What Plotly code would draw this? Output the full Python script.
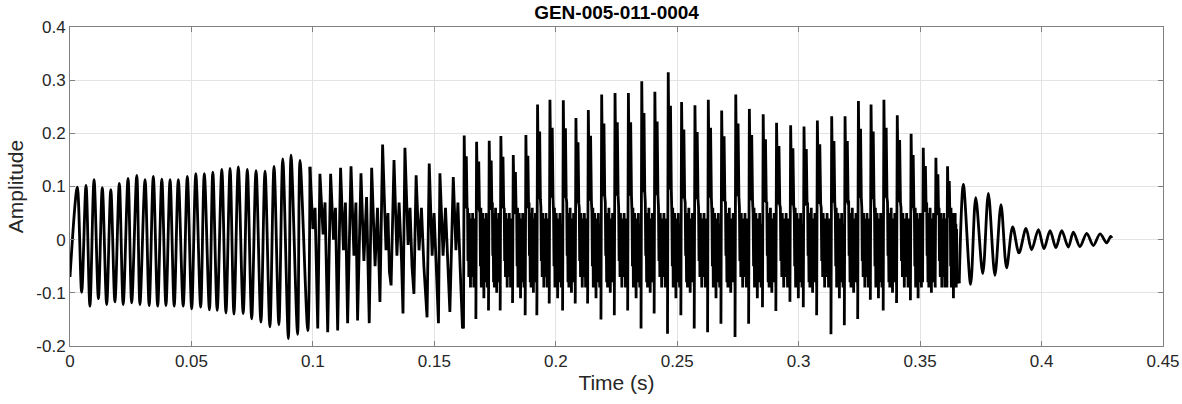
import plotly.graph_objects as go

# ---------------- data ----------------
# Section A: clean periodic part (extrema), 0 - 0.099 s
a_t = [0.0000, 0.0030, 0.0048, 0.0066, 0.0082, 0.0099, 0.0117, 0.0133, 0.0151, 0.0168,
       0.0185, 0.0203, 0.0219, 0.0239, 0.0254, 0.0275, 0.0288, 0.0309, 0.0326, 0.0343,
       0.0361, 0.0378, 0.0395, 0.0412, 0.0429, 0.0446, 0.0466, 0.0483, 0.0501, 0.0518,
       0.0538, 0.0553, 0.0574, 0.0588, 0.0606, 0.0625, 0.0642, 0.0659, 0.0675, 0.0693,
       0.0713, 0.0730, 0.0748, 0.0766, 0.0786, 0.0803, 0.0823, 0.0840, 0.0860, 0.0876,
       0.0899, 0.0910, 0.0937, 0.0947, 0.0979, 0.0988]
a_v = [-0.070, 0.099, -0.099, 0.102, -0.125, 0.113, -0.111, 0.098, -0.122, 0.094,
       -0.117, 0.106, -0.122, 0.115, -0.119, 0.121, -0.122, 0.113, -0.124, 0.119,
       -0.125, 0.114, -0.124, 0.113, -0.125, 0.113, -0.125, 0.119, -0.130, 0.124,
       -0.127, 0.124, -0.132, 0.127, -0.133, 0.132, -0.138, 0.134, -0.140, 0.137,
       -0.139, 0.132, -0.149, 0.130, -0.155, 0.129, -0.164, 0.138, -0.160, 0.152,
       -0.186, 0.159, -0.178, 0.149, -0.171, 0.137]

# Section B: transition with secondary bumps, 0.099 - 0.162 s
b_t = [0.0988, 0.1000, 0.1009, 0.1020, 0.1029, 0.1042, 0.1050, 0.1061, 0.1073, 0.1085,
       0.1093, 0.1102, 0.1114, 0.1126, 0.1134, 0.1143, 0.1157, 0.1169, 0.1177, 0.1184,
       0.1198, 0.1210, 0.1221, 0.1232, 0.1242, 0.1256, 0.1266, 0.1276, 0.1287, 0.1301,
       0.1309, 0.1315, 0.1322, 0.1334, 0.1346, 0.1355, 0.1365, 0.1371, 0.1379, 0.1392,
       0.1400, 0.1408, 0.1416, 0.1425, 0.1437, 0.1447, 0.1457, 0.1470, 0.1479, 0.1491,
       0.1499, 0.1507, 0.1517, 0.1523, 0.1536, 0.1546, 0.1556, 0.1564, 0.1578, 0.1589,
       0.1597, 0.1606, 0.1616]
b_v = [0.137, 0.020, 0.060, -0.167, 0.124, 0.010, 0.070, -0.174, 0.124, 0.000,
       0.060, -0.171, 0.135, -0.020, 0.070, -0.157, 0.138, -0.030, 0.070, -0.152,
       0.125, -0.040, 0.080, -0.157, 0.135, -0.050, 0.060, -0.117, 0.179, -0.020,
       0.050, -0.060, -0.086, 0.150, -0.030, 0.070, -0.040, -0.139, 0.173, -0.010,
       0.060, -0.050, -0.102, 0.121, -0.020, 0.060, -0.050, -0.146, 0.143, -0.030,
       0.050, -0.040, -0.157, 0.125, -0.030, 0.060, -0.050, -0.136, 0.118, -0.020,
       0.070, -0.050, -0.167]

# Section C: voiced part with ringing, main pulses 0.162 - 0.366 s
c_peak_t = [0.1623, 0.1674, 0.1726, 0.1774, 0.1825, 0.1877, 0.1925, 0.1976, 0.2031, 0.2083,
            0.2134, 0.2189, 0.2244, 0.2299, 0.2354, 0.2408, 0.2463, 0.2518, 0.2573, 0.2628,
            0.2683, 0.2741, 0.2797, 0.2854, 0.2909, 0.2967, 0.3022, 0.3077, 0.3136, 0.3191,
            0.3246, 0.3298, 0.3351, 0.3406, 0.3463, 0.3513, 0.3565, 0.3613]
c_peak_v = [0.196, 0.184, 0.186, 0.195, 0.159, 0.197, 0.254, 0.263, 0.262, 0.229,
            0.244, 0.273, 0.276, 0.276, 0.298, 0.278, 0.315, 0.259, 0.253, 0.263,
            0.243, 0.273, 0.246, 0.236, 0.220, 0.215, 0.213, 0.224, 0.232, 0.232,
            0.261, 0.254, 0.263, 0.234, 0.199, 0.173, 0.154, 0.138]
c_trough_v = [-0.167, -0.149, -0.133, -0.133, -0.119, -0.142, -0.142, -0.120, -0.133, -0.120,
              -0.120, -0.150, -0.142, -0.133, -0.167, -0.139, -0.177, -0.142, -0.167, -0.174,
              -0.158, -0.183, -0.158, -0.127, -0.134, -0.117, -0.127, -0.142, -0.178, -0.161,
              -0.149, -0.113, -0.133, -0.119, -0.114, -0.080, -0.083, -0.090]
c_end_t = 0.3655
# pulse shape: double spike, then dense ringing
pulse_frac = [0.08, 0.17, 0.23]
pulse_ratio = [0.30, 0.80, 0.30]
ring_frac = [0.270, 0.304, 0.338, 0.372, 0.406, 0.440, 0.474, 0.508, 0.542, 0.576, 0.610,
             0.644, 0.678, 0.712, 0.746, 0.780, 0.814, 0.848, 0.882, 0.916, 0.950]
ring_vals = [
    [0.06, -0.04, 0.04, -0.07, 0.05, -0.05, 0.02, -0.09, 0.04, -0.05, 0.03,
     -0.07, 0.05, -0.04, 0.01, -0.09, 0.03, -0.06, 0.04, -0.05, -0.08],
    [0.05, -0.05, 0.06, -0.09, 0.02, -0.06, 0.05, -0.07, 0.03, -0.11, 0.04,
     -0.05, 0.02, -0.08, 0.05, -0.06, 0.03, -0.09, 0.02, -0.05, -0.07],
    [0.07, -0.03, 0.02, -0.08, 0.05, -0.09, 0.03, -0.06, 0.06, -0.04, 0.02,
     -0.10, 0.04, -0.07, 0.03, -0.05, 0.05, -0.08, 0.02, -0.06, -0.09],
]

# Section D: decaying tail, 0.366 - 0.429 s
d_t = [0.3661, 0.3678, 0.3708, 0.3729, 0.3758, 0.3781, 0.3808, 0.3833, 0.3856, 0.3881,
       0.3907, 0.3936, 0.3959, 0.3987, 0.4010, 0.4035, 0.4059, 0.4083, 0.4110, 0.4131,
       0.4158, 0.4186, 0.4213, 0.4241, 0.4268, 0.4284, 0.4290]
d_v = [-0.082, 0.104, -0.084, 0.079, -0.064, 0.087, -0.067, 0.066, -0.053, 0.024,
       -0.025, 0.021, -0.019, 0.019, -0.017, 0.017, -0.015, 0.017, -0.014, 0.014,
       -0.013, 0.012, -0.011, 0.011, -0.006, 0.006, 0.003]

x_ticks = [0, 0.05, 0.1, 0.15, 0.2, 0.25, 0.3, 0.35, 0.4, 0.45]
x_labels = ["0", "0.05", "0.1", "0.15", "0.2", "0.25", "0.3", "0.35", "0.4", "0.45"]
y_ticks = [-0.2, -0.1, 0, 0.1, 0.2, 0.3, 0.4]
y_labels = ["-0.2", "-0.1", "0", "0.1", "0.2", "0.3", "0.4"]

# ---------------- build section C polyline ----------------
c_t, c_v = [], []
bounds = c_peak_t + [c_end_t]
for k, tp in enumerate(c_peak_t):
    T = bounds[k + 1] - tp
    c_t.append(tp - 0.0003)
    c_v.append(c_trough_v[k])
    c_t.append(tp)
    c_v.append(c_peak_v[k])
    for f, r in zip(pulse_frac, pulse_ratio):
        c_t.append(tp + f * T)
        c_v.append(r * c_peak_v[k])
    for f, v in zip(ring_frac, ring_vals[k % len(ring_vals)]):
        c_t.append(tp + f * T)
        c_v.append(v)
c_t.append(d_t[0])
c_v.append(d_v[0])

LINE = dict(color="black", width=2.8, simplify=False)
fig = go.Figure()
fig.add_trace(go.Scatter(x=a_t, y=a_v, mode="lines", line=dict(LINE, shape="spline", smoothing=0.9)))
fig.add_trace(go.Scatter(x=b_t, y=b_v, mode="lines", line=LINE))
fig.add_trace(go.Scatter(x=c_t, y=c_v, mode="lines", line=LINE))
fig.add_trace(go.Scatter(x=d_t, y=d_v, mode="lines", line=dict(LINE, shape="spline", smoothing=0.9)))

FONT = "Liberation Sans, Arial, Helvetica, sans-serif"
axis_common = dict(
    showgrid=True, gridcolor="#e3e3e3", gridwidth=1,
    showline=True, linecolor="#808080", linewidth=1, mirror="ticks",
    ticks="inside", ticklen=5, tickcolor="#808080", automargin=False,
    zeroline=False, tickfont=dict(family=FONT, size=17, color="#262626"),
)
fig.update_layout(
    width=1182, height=404,
    margin=dict(l=70, r=19, t=27, b=58),
    paper_bgcolor="white", plot_bgcolor="white",
    showlegend=False,
    title=dict(text="<b>GEN-005-011-0004</b>", x=0.5216, xanchor="center",
               y=1 - 12 / 404, yanchor="middle", yref="container",
               font=dict(family=FONT, size=19, color="black")),
    xaxis=dict(axis_common, range=[0, 0.45], tickvals=x_ticks, ticktext=x_labels,
               title=dict(text="Time (s)", standoff=4, font=dict(family=FONT, size=21, color="#262626"))),
    yaxis=dict(axis_common, range=[-0.2, 0.4], tickvals=y_ticks, ticktext=y_labels,
               title=dict(text="Amplitude", standoff=6, font=dict(family=FONT, size=21, color="#262626"))),
)
fig.write_html("out.html", config={"displayModeBar": False},
               post_script="document.body.style.margin='0px';")
